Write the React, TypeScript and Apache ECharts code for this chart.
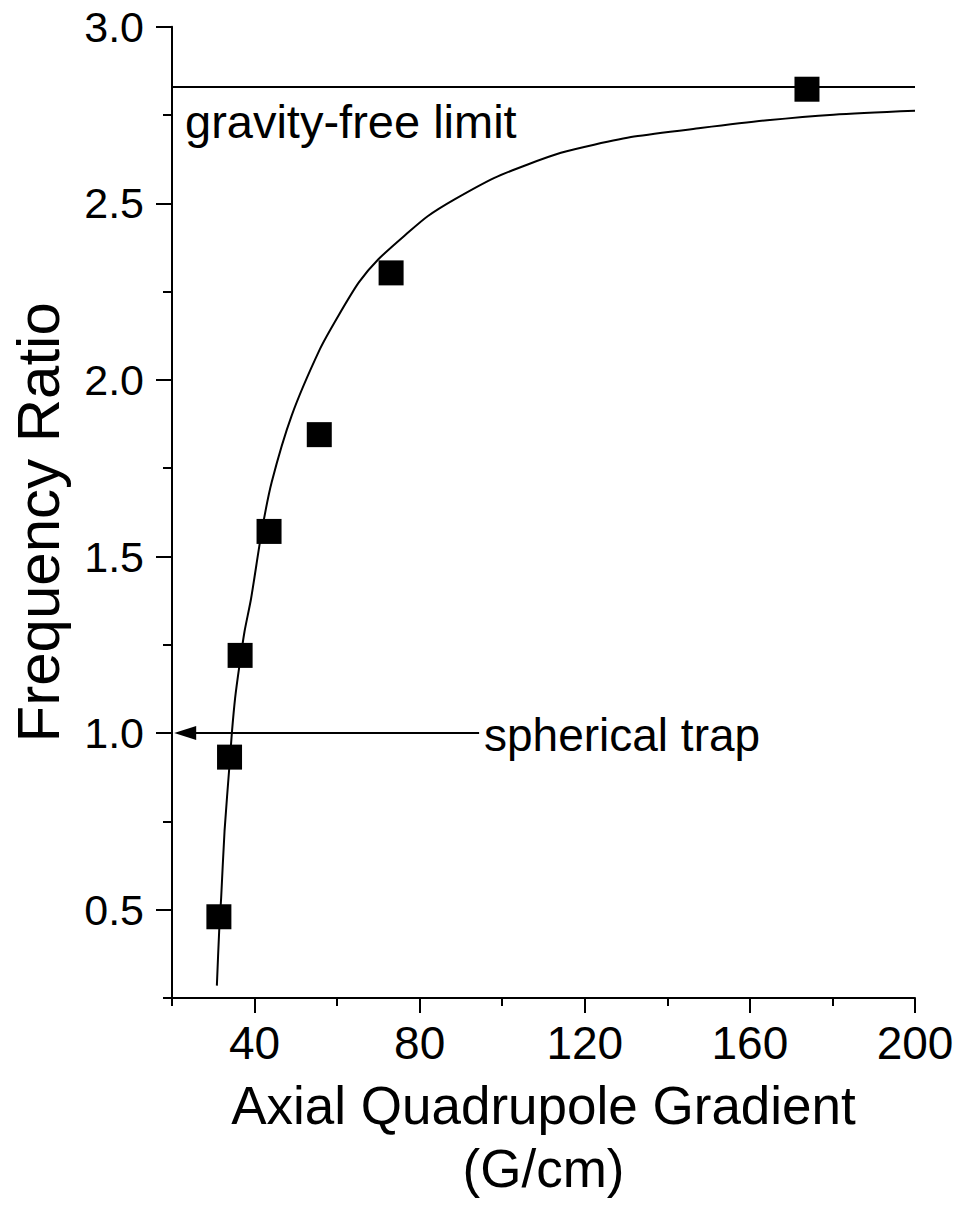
import React, { useEffect, useRef } from "react";
import * as echarts from "echarts";

// Measured data points (G/cm, frequency ratio)
const gradient = [31.36, 33.94, 36.5, 43.51, 55.68, 73.08, 173.83];
const ratio = [0.48, 0.932, 1.22, 1.571, 1.845, 2.303, 2.823];

// Fitted curve
const fitX = [30.87, 31.43, 31.91, 32.73, 33.94, 34.5, 35.29, 36.36, 37.56, 39.16, 41.74, 44.16, 48.99, 55.83, 60.28, 65.26, 69.94, 77.19, 82.02, 88.45, 98.11, 106.18, 114.22, 122.27, 131.94, 148.05, 164.17, 180.26, 200];
const fitY = [0.285, 0.44, 0.534, 0.723, 0.911, 1.0, 1.099, 1.193, 1.287, 1.381, 1.571, 1.711, 1.899, 2.087, 2.181, 2.276, 2.341, 2.417, 2.464, 2.511, 2.572, 2.61, 2.643, 2.666, 2.689, 2.713, 2.735, 2.751, 2.762];

const xMajorTicks = [40, 80, 120, 160, 200];
const xMinorTicks = [20, 60, 100, 140, 180];
const yMajorTicks = [0.5, 1.0, 1.5, 2.0, 2.5, 3.0];
const yMinorTicks = [0.25, 0.75, 1.25, 1.75, 2.25, 2.75];

const gravityFreeLimit = 2.828;
const sphericalTrap = 1.0;
const arrowFromX = 94.4;
const arrowToX = 23.2;

const FONT = "'Liberation Sans', Arial, Helvetica, sans-serif";

export default function App() {
  const ref = useRef<HTMLDivElement>(null);
  useEffect(() => {
    const chart = echarts.init(ref.current!, null, { renderer: "svg" });
    const black = "#000";
    const tickStyle = { color: black, width: 2 };
    chart.setOption({
      animation: false,
      backgroundColor: "#fff",
      grid: { left: 170, top: 26.7, width: 745, height: 974 },
      xAxis: [
        {
          type: "value",
          position: "bottom",
          min: 20,
          max: 200,
          interval: 20,
          axisLine: { show: true, lineStyle: { color: black, width: 2 } },
          splitLine: { show: false },
          axisTick: { show: true, length: 15, lineStyle: tickStyle, customValues: xMajorTicks },
          axisLabel: { customValues: xMajorTicks, fontSize: 46, color: black, fontFamily: FONT, margin: 22 },
          name: "Axial Quadrupole Gradient\n(G/cm)",
          nameLocation: "middle",
          nameGap: 76,
          nameTextStyle: { fontSize: 53, fontFamily: FONT, color: black, lineHeight: 63 },
        },
        {
          type: "value",
          position: "bottom",
          min: 20,
          max: 200,
          interval: 20,
          axisLine: { show: false },
          splitLine: { show: false },
          axisTick: { show: true, length: 8, lineStyle: tickStyle, customValues: xMinorTicks },
          axisLabel: { show: false },
        },
      ],
      yAxis: [
        {
          type: "value",
          position: "left",
          min: 0.25,
          max: 3.0,
          interval: 0.25,
          axisLine: { show: true, lineStyle: { color: black, width: 2 } },
          splitLine: { show: false },
          axisTick: { show: true, length: 16, lineStyle: tickStyle, customValues: yMajorTicks },
          axisLabel: {
            customValues: yMajorTicks,
            fontSize: 43,
            color: black,
            fontFamily: FONT,
            margin: 28,
            formatter: (v: number) => v.toFixed(1),
          },
          name: "Frequency Ratio",
          nameLocation: "middle",
          nameGap: 104,
          nameTextStyle: { fontSize: 60, fontFamily: FONT, color: black, padding: [0, 20, 0, 0] },
        },
        {
          type: "value",
          position: "left",
          min: 0.25,
          max: 3.0,
          interval: 0.25,
          axisLine: { show: false },
          splitLine: { show: false },
          axisTick: { show: true, length: 9, lineStyle: tickStyle, customValues: yMinorTicks },
          axisLabel: { show: false },
        },
      ],
      series: [
        {
          type: "line",
          name: "fit",
          data: fitX.map((x, i) => [x, fitY[i]]),
          showSymbol: false,
          symbol: "none",
          smooth: 0.25,
          lineStyle: { color: black, width: 2 },
          markLine: {
            silent: true,
            symbol: ["none", "none"],
            lineStyle: { color: black, width: 2, type: "solid" },
            label: { show: false },
            data: [
              { yAxis: gravityFreeLimit },
              [{ coord: [arrowFromX, sphericalTrap] }, { coord: [arrowToX, sphericalTrap] }],
            ],
          },
          z: 2,
        },
        {
          type: "scatter",
          name: "arrowhead",
          data: [[arrowToX, sphericalTrap]],
          symbol: "triangle",
          symbolSize: [14, 22],
          symbolRotate: 90,
          itemStyle: { color: black, opacity: 1 },
          silent: true,
          z: 3,
        },
        {
          type: "scatter",
          name: "data",
          data: gradient.map((x, i) => [x, ratio[i]]),
          symbol: "rect",
          symbolSize: 25,
          itemStyle: { color: black, opacity: 1 },
          z: 4,
        },
      ],
      graphic: [
        {
          type: "text",
          x: 185,
          y: 121,
          style: {
            text: "gravity-free limit",
            fontSize: 47,
            fontFamily: FONT,
            fill: black,
            align: "left",
            verticalAlign: "middle",
          },
        },
        {
          type: "text",
          x: 484,
          y: 735,
          style: {
            text: "spherical trap",
            fontSize: 46,
            fontFamily: FONT,
            fill: black,
            align: "left",
            verticalAlign: "middle",
          },
        },
      ],
    });
    return () => chart.dispose();
  }, []);
  return (
    <div
      ref={ref}
      style={{ position: "fixed", left: 0, top: 0, width: 958, height: 1205, background: "#fff" }}
    />
  );
}
